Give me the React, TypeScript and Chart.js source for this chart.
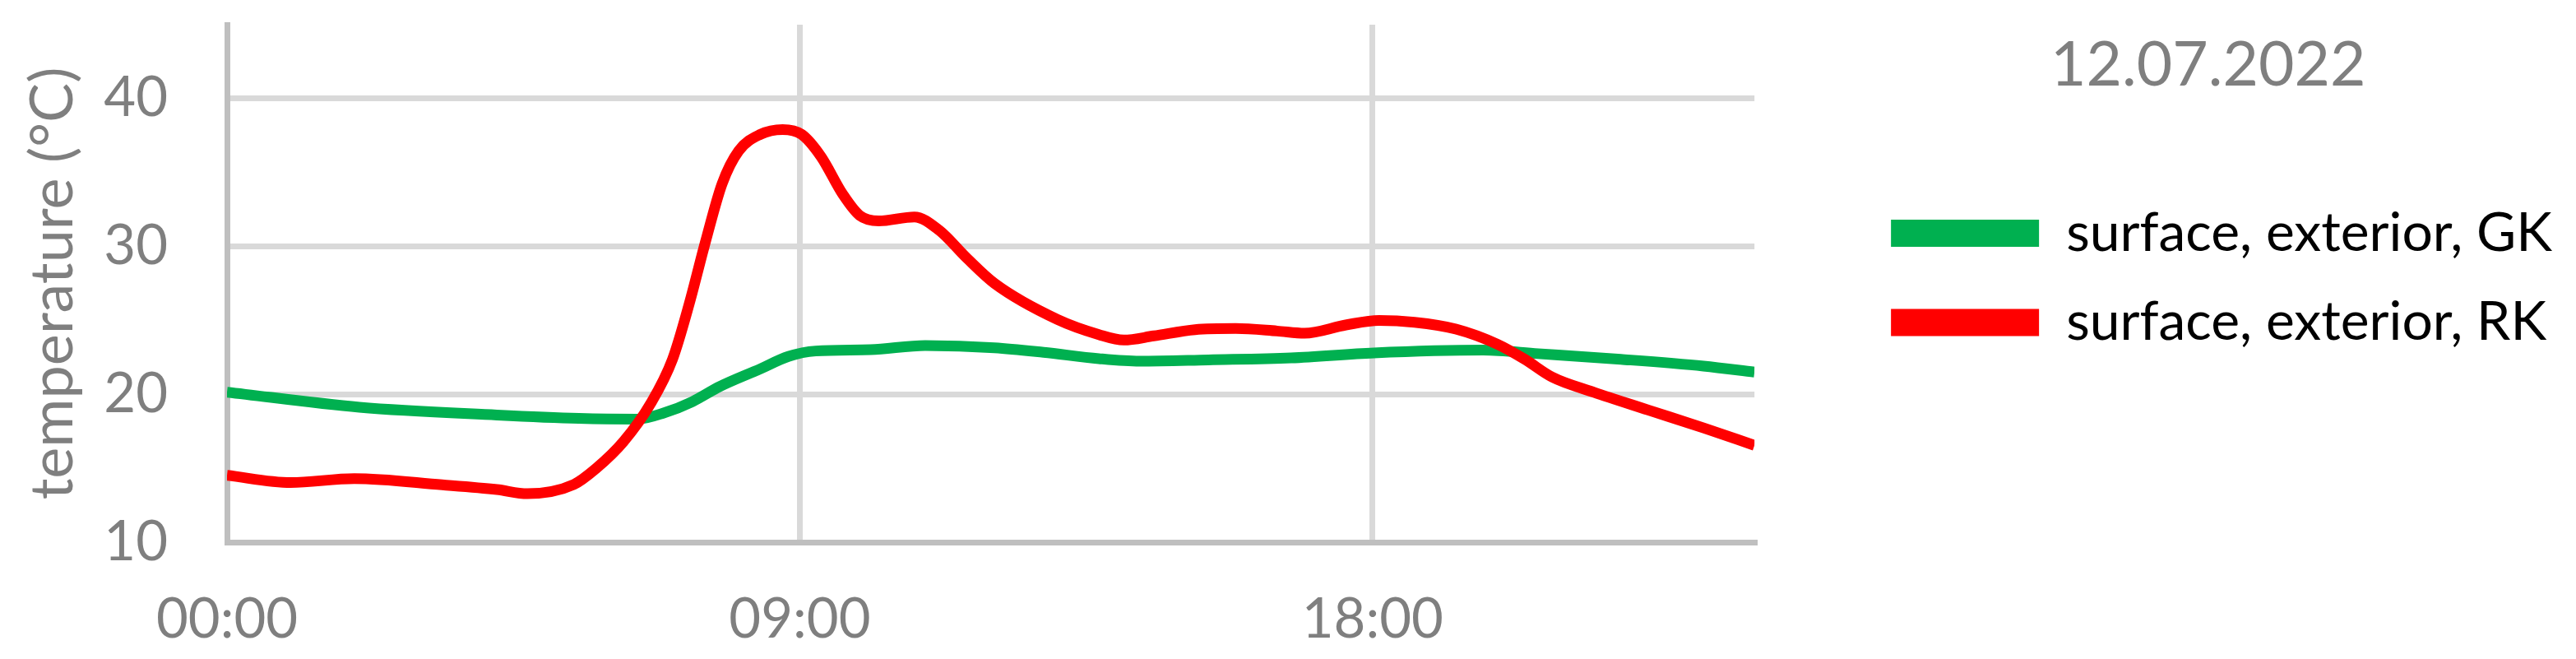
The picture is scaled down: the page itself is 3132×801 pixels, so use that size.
import React, { useEffect, useRef } from 'react';
import { Chart, registerables } from 'chart.js';

Chart.register(...registerables);

// ---- data ----
const seriesLabels = ['surface, exterior, GK', 'surface, exterior, RK'];
const chartTitle = '12.07.2022';
const yAxisTitle = 'temperature (°C)';

const gkHours = [0, 2.08, 4.24, 5.53, 6.44, 6.87, 7.31, 7.74, 8.38, 8.82, 9.25, 10.11, 10.97, 12.06, 12.83, 13.7, 14.34, 15.42, 16.72, 18.02, 19.74, 20.6, 21.9, 23.2, 24];
const gkTemps = [20.15, 19.13, 18.6, 18.37, 18.32, 18.75, 19.5, 20.52, 21.72, 22.56, 22.93, 23.02, 23.3, 23.15, 22.84, 22.41, 22.24, 22.33, 22.46, 22.8, 22.99, 22.75, 22.37, 21.91, 21.5];

const rkHours = [0, 1.0, 2.0, 3.38, 4.24, 4.72, 5.45, 5.79, 6.23, 6.66, 7.0, 7.26, 7.52, 7.78, 8.04, 8.38, 8.73, 9.03, 9.33, 9.68, 9.94, 10.24, 10.8, 11.19, 11.62, 12.06, 13.05, 13.7, 14.09, 14.56, 15.21, 15.85, 16.5, 16.93, 17.58, 18.1, 18.66, 19.31, 19.96, 20.39, 20.82, 21.47, 22.33, 23.2, 24];
const rkTemps = [14.52, 14.03, 14.3, 13.88, 13.56, 13.28, 13.9, 14.95, 16.8, 19.4, 22.37, 26.08, 30.35, 34.25, 36.47, 37.58, 37.91, 37.58, 36.1, 33.5, 32.1, 31.73, 32.0, 31.09, 29.23, 27.5, 25.06, 24.04, 23.67, 23.95, 24.37, 24.45, 24.28, 24.13, 24.69, 25.0, 24.87, 24.41, 23.39, 22.37, 21.17, 20.15, 18.94, 17.73, 16.55];

const xTickHours = [0, 9, 18];
const yTickValues = [10, 20, 30, 40];

// ---- styles ----
const FONT = 'Lato';
const GREEN = '#00b050';
const RED = '#ff0000';
const GRAY = '#7f7f7f';
const GRID = '#d9d9d9';
const AXIS = '#bfbfbf';

const pad2 = (n: number) => (n < 10 ? '0' + n : String(n));

const noPadding = (s: any) => {
  s.paddingTop = 0;
  s.paddingBottom = 0;
  s.paddingLeft = 0;
  s.paddingRight = 0;
};

export default function App() {
  const ref = useRef<HTMLCanvasElement>(null);

  useEffect(() => {
    const toPoints = (xs: number[], ys: number[]) => xs.map((x, i) => ({ x, y: ys[i] }));
    const chart = new Chart(ref.current as HTMLCanvasElement, {
      type: 'line',
      data: {
        datasets: [
          {
            label: seriesLabels[1],
            data: toPoints(rkHours, rkTemps),
            borderColor: RED,
            backgroundColor: RED,
            borderWidth: 13,
            pointRadius: 0,
            cubicInterpolationMode: 'monotone',
            fill: false,
          },
          {
            label: seriesLabels[0],
            data: toPoints(gkHours, gkTemps),
            borderColor: GREEN,
            backgroundColor: GREEN,
            borderWidth: 13,
            pointRadius: 0,
            cubicInterpolationMode: 'monotone',
            fill: false,
          },
        ],
      },
      options: {
        responsive: false,
        animation: false,
        layout: { padding: { top: 30, right: 19, bottom: 0, left: 0 } },
        plugins: {
          tooltip: { enabled: false },
          legend: {
            position: 'right',
            align: 'start',
            reverse: true,
            maxWidth: 1400,
            title: {
              display: true,
              text: chartTitle,
              color: GRAY,
              font: { family: FONT, size: 75 },
              padding: { top: 12.5, bottom: 75.5 },
            },
            labels: {
              boxWidth: 180,
              boxHeight: 33,
              padding: 42.5,
              color: '#000000',
              font: { family: FONT, size: 66 },
              generateLabels: (c: any) =>
                (Chart.defaults.plugins.legend.labels as any)
                  .generateLabels(c)
                  .map((l: any) => ({ ...l, lineWidth: 0 })),
            },
          },
        },
        scales: {
          x: {
            type: 'linear',
            min: 0,
            max: 24,
            afterBuildTicks: (s: any) => {
              s.ticks = xTickHours.map((v) => ({ value: v }));
            },
            afterFit: (s: any) => {
              s.height = 142;
              noPadding(s);
            },
            ticks: {
              callback: (v: any) => pad2(Number(v)) + ':00',
              color: GRAY,
              font: { family: FONT, size: 67 },
              padding: 54,
              maxRotation: 0,
              autoSkip: false,
            },
            grid: { color: GRID, lineWidth: 7, drawTicks: false },
            border: { display: true, color: AXIS, width: 7 },
          },
          y: {
            type: 'linear',
            position: 'left',
            min: 10,
            max: 45,
            afterBuildTicks: (s: any) => {
              s.ticks = yTickValues.map((v) => ({ value: v }));
            },
            afterFit: (s: any) => {
              s.width = 276;
              noPadding(s);
            },
            ticks: {
              color: GRAY,
              font: { family: FONT, size: 67 },
              padding: 72,
            },
            grid: { color: GRID, lineWidth: 7, drawTicks: false },
            border: { display: true, color: AXIS, width: 7 },
            title: {
              display: true,
              text: yAxisTitle,
              color: GRAY,
              font: { family: FONT, size: 72 },
              padding: { top: 22, bottom: 0 },
            },
          },
          spacer: {
            type: 'linear',
            position: 'right',
            display: true,
            afterFit: (s: any) => {
              s.width = 123.5;
              noPadding(s);
            },
            ticks: { display: false },
            grid: { display: false, drawTicks: false },
            border: { display: false },
          },
        },
      } as any,
    });
    return () => chart.destroy();
  }, []);

  return (
    <div style={{ position: 'fixed', left: 0, top: 0, width: 3132, height: 801, background: '#ffffff' }}>
      <canvas ref={ref} width={3132} height={801} style={{ display: 'block' }} />
    </div>
  );
}
